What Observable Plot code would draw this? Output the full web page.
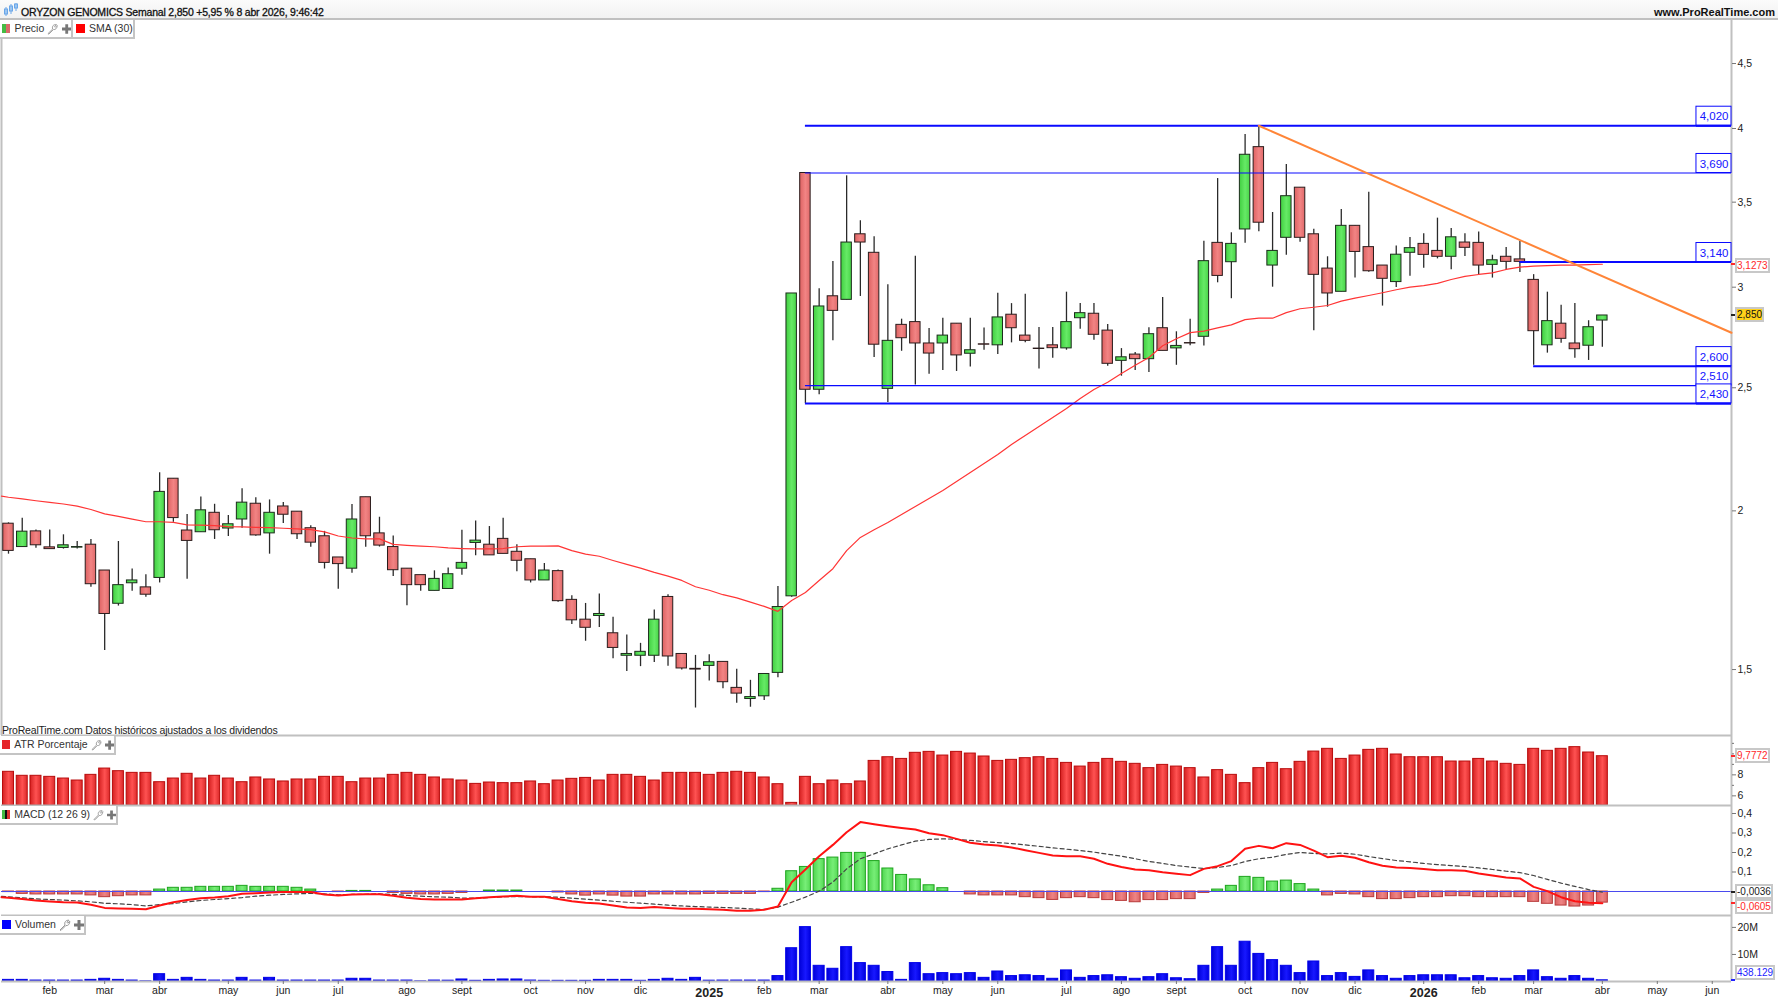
<!DOCTYPE html>
<html lang="es">
<head>
<meta charset="utf-8">
<title>ORYZON GENOMICS</title>
<script src="https://cdn.jsdelivr.net/npm/d3@7"></script>
<script src="https://cdn.jsdelivr.net/npm/@observablehq/plot@0.6"></script>
<style>
html,body{margin:0;padding:0;background:#fff;overflow:hidden}
body{width:1778px;height:1000px;position:relative;font-family:"Liberation Sans",Arial,sans-serif;font-size:10.5px;color:#222}
.pane{position:absolute;left:0}
.pane svg{display:block;overflow:visible}
.abs{position:absolute;white-space:nowrap}
.leg{position:absolute;left:0;height:17px;line-height:17px;background:#fff;border-right:2px solid #c4c4c4;border-bottom:2px solid #c4c4c4;box-sizing:content-box;white-space:nowrap;display:flex;align-items:center;font-size:10.5px;color:#333}
.sw{display:inline-block;width:9px;height:9px;margin:0 4px 0 2px}
.ic{margin-left:3px}
.val{position:absolute;left:1735px;height:11px;line-height:11px;padding:0;border:2px solid #c8c8c8;font-size:10px;background:#fff;white-space:nowrap;box-sizing:content-box}
.mk{position:absolute;left:1731px;width:4px;height:2px}
</style>
</head>
<body>
<script>
const openP = [1.954,1.873,1.927,1.872,1.870,1.871,1.881,1.795,1.690,1.754,
1.741,1.771,2.120,1.930,1.924,1.993,1.937,1.969,2.026,1.920,
2.016,1.997,1.938,1.910,1.838,1.801,2.050,1.920,1.873,1.801,
1.780,1.730,1.736,1.801,1.887,1.881,1.901,1.857,1.832,1.763,
1.793,1.702,1.642,1.653,1.602,1.538,1.538,1.538,1.711,1.543,
1.502,1.510,1.521,1.451,1.422,1.429,1.491,1.713,3.690,2.491,
2.951,2.932,3.302,3.193,2.495,2.802,2.816,2.709,2.709,2.808,
2.659,2.705,2.700,2.854,2.748,2.684,2.700,2.685,2.836,2.859,
2.773,2.625,2.655,2.633,2.785,2.685,2.711,2.742,3.251,3.139,
3.331,3.867,3.120,3.281,3.593,3.302,3.103,2.975,3.353,3.226,
3.120,3.028,3.193,3.245,3.204,3.170,3.253,3.251,3.124,3.170,
3.155,3.040,2.700,2.808,2.709,2.698,2.824];
const highP = [1.957,1.973,1.932,1.932,1.915,1.892,1.899,1.795,1.892,1.800,
1.781,2.143,2.120,1.987,2.051,2.024,1.983,2.082,2.048,2.040,
2.031,1.997,1.947,1.927,1.838,2.023,2.050,1.977,1.911,1.801,
1.780,1.794,1.803,1.931,1.964,1.944,1.973,1.881,1.832,1.818,
1.797,1.715,1.691,1.720,1.649,1.597,1.573,1.671,1.718,1.543,
1.539,1.541,1.521,1.501,1.471,1.488,1.744,2.966,3.690,2.991,
3.143,3.671,3.384,3.287,3.013,2.831,3.173,2.784,2.836,2.808,
2.836,2.786,2.967,2.912,2.962,2.788,2.788,2.973,2.913,2.913,
2.804,2.684,2.665,2.787,2.944,2.767,2.831,3.261,3.653,3.311,
3.957,4.020,3.435,3.747,3.593,3.333,3.170,3.453,3.353,3.564,
3.120,3.233,3.283,3.305,3.400,3.337,3.305,3.315,3.179,3.224,
3.259,3.069,2.973,2.904,2.913,2.823,2.850];
const lowP = [1.849,1.873,1.869,1.866,1.866,1.866,1.741,1.553,1.683,1.729,
1.710,1.755,1.959,1.767,1.924,1.899,1.909,1.938,1.910,1.849,
1.955,1.899,1.872,1.800,1.735,1.786,1.872,1.873,1.776,1.684,
1.729,1.730,1.736,1.780,1.844,1.845,1.850,1.791,1.755,1.763,
1.695,1.628,1.579,1.619,1.530,1.495,1.508,1.519,1.509,1.499,
1.399,1.469,1.449,1.411,1.401,1.418,1.478,1.710,2.430,2.468,
2.722,2.932,2.950,2.641,2.434,2.671,2.513,2.562,2.580,2.575,
2.596,2.676,2.655,2.712,2.712,2.587,2.637,2.676,2.780,2.725,
2.600,2.553,2.580,2.570,2.673,2.604,2.698,2.697,3.024,2.938,
3.249,3.317,3.000,3.179,3.254,2.772,2.893,2.975,3.050,3.082,
2.899,2.998,3.060,3.105,3.158,3.096,3.172,3.068,3.050,3.092,
3.081,2.604,2.662,2.710,2.637,2.627,2.690];
const closeP = [1.860,1.926,1.879,1.866,1.879,1.873,1.751,1.659,1.748,1.763,
1.718,2.070,1.974,1.894,2.002,1.931,1.952,2.030,1.913,1.993,
1.986,1.917,1.888,1.820,1.816,1.969,1.910,1.878,1.796,1.748,
1.748,1.768,1.783,1.820,1.895,1.845,1.850,1.827,1.763,1.795,
1.698,1.640,1.618,1.659,1.560,1.543,1.549,1.642,1.536,1.503,
1.500,1.520,1.466,1.436,1.427,1.488,1.680,2.966,2.491,2.897,
2.874,3.253,3.253,2.703,2.722,2.735,2.709,2.660,2.748,2.651,
2.676,2.703,2.840,2.785,2.722,2.682,2.686,2.816,2.862,2.752,
2.611,2.642,2.633,2.755,2.673,2.697,2.709,3.145,3.062,3.245,
3.814,3.372,3.204,3.538,3.281,3.068,2.966,3.353,3.198,3.088,
3.046,3.182,3.220,3.181,3.170,3.284,3.222,3.120,3.150,3.141,
3.141,2.770,2.821,2.732,2.681,2.790,2.850];
const sma30 = [2.050,2.044,2.037,2.031,2.025,2.017,2.005,1.989,1.980,1.970,
1.961,1.961,1.959,1.950,1.949,1.947,1.944,1.943,1.941,1.940,
1.938,1.936,1.933,1.925,1.911,1.904,1.901,1.901,1.882,1.879,
1.876,1.874,1.870,1.868,1.867,1.867,1.868,1.874,1.876,1.876,
1.877,1.861,1.849,1.842,1.828,1.815,1.803,1.789,1.777,1.763,
1.743,1.732,1.718,1.708,1.695,1.682,1.667,1.700,1.725,1.763,
1.801,1.861,1.906,1.933,1.958,1.987,2.016,2.045,2.075,2.109,
2.144,2.179,2.215,2.256,2.293,2.331,2.369,2.408,2.452,2.492,
2.525,2.566,2.604,2.641,2.698,2.732,2.763,2.770,2.787,2.802,
2.829,2.836,2.836,2.865,2.885,2.893,2.902,2.925,2.941,2.955,
2.970,2.986,3.000,3.009,3.021,3.042,3.059,3.070,3.079,3.098,
3.111,3.117,3.120,3.122,3.123,3.125,3.1273];
const smaBefore = 2.054;
const macdBefore = -.029;
const signalBefore = -.025;
const atrPct = [8.29,7.91,7.91,7.81,7.65,7.46,8.00,8.60,8.35,8.19,
8.19,7.30,7.65,8.10,7.65,7.91,7.65,7.30,7.75,7.56,
7.37,7.56,7.56,7.81,7.81,7.30,7.65,7.65,8.00,8.19,
8.00,7.75,7.56,7.46,7.14,7.27,7.21,7.21,7.37,7.11,
7.46,7.62,7.71,7.46,8.00,8.00,7.81,7.46,8.19,8.19,
8.19,8.00,8.19,8.29,8.19,7.75,7.11,5.33,7.81,7.11,
7.46,7.11,7.37,9.33,9.68,9.52,10.10,10.19,9.84,10.19,
10.03,9.75,9.33,9.43,9.59,9.68,9.52,9.14,8.79,9.14,
9.52,9.24,9.05,8.64,8.95,8.79,8.64,7.75,8.45,8.00,
7.21,8.64,9.14,8.54,9.24,10.22,10.48,9.52,9.84,10.38,
10.48,9.94,9.68,9.68,9.68,9.27,9.27,9.52,9.27,9.05,
8.95,10.48,10.29,10.48,10.64,10.13,9.7772];
const macdHist = [-.003,-.012,-.015,-.015,-.015,-.015,-.020,-.029,-.024,-.020,
-.020,.010,.019,.019,.024,.024,.024,.029,.024,.024,
.024,.019,.010,0,-.003,.003,.003,0,-.007,-.012,
-.015,-.015,-.012,-.007,0,.005,.005,.005,0,0,
-.005,-.015,-.021,-.015,-.021,-.026,-.026,-.015,-.015,-.015,
-.015,-.012,-.012,-.012,-.012,-.003,.014,.104,.126,.166,
.174,.198,.198,.156,.118,.085,.062,.032,.017,0,
-.015,-.020,-.020,-.020,-.029,-.034,-.043,-.034,-.029,-.034,
-.044,-.048,-.055,-.044,-.044,-.039,-.039,-.007,.010,.029,
.075,.070,.051,.056,.038,.010,-.020,-.012,-.015,-.029,
-.039,-.039,-.034,-.029,-.029,-.024,-.024,-.029,-.029,-.029,
-.029,-.053,-.063,-.072,-.077,-.072,-.057];
const macdLine = [-.032,-.038,-.046,-.051,-.055,-.056,-.068,-.084,-.087,-.089,
-.091,-.072,-.055,-.044,-.034,-.031,-.024,-.012,-.009,-.005,
-.003,-.002,-.003,-.015,-.020,-.015,-.014,-.014,-.022,-.032,
-.038,-.041,-.041,-.041,-.034,-.029,-.026,-.022,-.027,-.027,
-.038,-.050,-.058,-.062,-.072,-.082,-.085,-.080,-.085,-.089,
-.089,-.091,-.094,-.099,-.099,-.094,-.077,.048,.113,.181,
.239,.304,.356,.345,.335,.326,.318,.299,.289,.270,
.250,.241,.236,.226,.212,.198,.185,.181,.181,.168,
.142,.126,.113,.109,.099,.091,.084,.116,.130,.156,
.219,.234,.222,.248,.239,.210,.176,.183,.173,.150,
.132,.123,.121,.115,.109,.109,.106,.092,.082,.072,
.067,.024,.002,-.029,-.050,-.058,-.0605];
const macdSignal = [-.027,-.032,-.038,-.041,-.044,-.048,-.053,-.060,-.063,-.067,
-.074,-.067,-.062,-.053,-.046,-.041,-.036,-.031,-.024,-.019,
-.015,-.012,-.010,-.012,-.017,-.015,-.014,-.012,-.015,-.020,
-.024,-.027,-.029,-.034,-.034,-.031,-.027,-.026,-.027,-.027,
-.029,-.034,-.039,-.044,-.050,-.055,-.060,-.065,-.070,-.074,
-.077,-.080,-.082,-.085,-.089,-.092,-.080,-.055,-.029,.002,
.048,.116,.168,.193,.219,.239,.258,.267,.270,.268,
.262,.256,.251,.246,.239,.232,.224,.217,.210,.202,
.191,.181,.168,.154,.144,.133,.125,.118,.123,.133,
.154,.168,.176,.190,.200,.195,.193,.197,.191,.179,
.169,.159,.152,.144,.138,.133,.128,.121,.113,.104,
.097,.082,.062,.043,.026,.010,-.0036];
const volumeM = [.6,.6,.35,.35,.35,.35,.6,1.0,.6,.35,
.05,2.7,.6,1.35,.6,.35,.35,1.35,.35,1.35,
.35,.35,.35,.35,.35,1.0,1.0,.35,.35,.35,
.05,.35,.3,.75,.25,.6,.75,.75,.35,.25,
.25,.25,.25,.6,.6,.6,.25,.6,1.0,.6,
1.35,.3,.35,.35,.35,.35,2.0,12.3,20.1,5.8,
4.7,12.7,6.8,5.8,3.5,.6,6.8,2.7,3.1,2.7,
3.1,1.35,3.7,2.0,2.3,2.0,1.0,4.1,1.35,2.0,
2.3,1.6,1.0,1.6,2.7,1.2,.85,5.8,12.7,5.8,
14.7,10.2,7.9,5.8,3.1,7.4,2.0,3.1,1.7,4.1,
2.0,1.0,2.0,2.3,2.3,2.3,1.2,2.0,1.2,1.0,
2.0,4.1,1.6,1.0,2.0,1.0,.438];
const monthTicks = [3,7,11,16,20,24,29,33,38,42,46,55,59,64,68,72,77,81,85,90,94,98,107,111,116,120,124];
const monthLabels = ["feb","mar","abr","may","jun","jul","ago","sept","oct","nov","dic","feb","mar","abr","may","jun","jul","ago","sept","oct","nov","dic","feb","mar","abr","may","jun"];
const yearTicks = [51,103];
const yearLabels = ["2025","2026"];
const levels = [4.02,3.69,3.14,2.6,2.51,2.43];
const levelStart = [58,58,110,111,58,58];
const levelWeight = [2,1.2,2,2,1.2,2];
const levelText = ["4,020","3,690","3,140","2,600","2,510","2,430"];
const trendX = [91,125.4];
const trendY = [4.02,2.762];
const priceTicks = [1.5,2,2.5,3,3.5,4,4.5];
const atrTicks = [6,8];
const atrMinor = [7,9,10,11];
const macdTicks = [.1,.2,.3,.4];
const volTicks = [10,20];

const W = 1778, idx = d3.range(openP.length);
const xDomain = [-0.509,125.4];
const base = {width:W, marginLeft:1, marginRight:47, marginTop:0, marginBottom:0,
  x:{type:"linear",domain:xDomain,axis:null},
  style:{fontFamily:"'Liberation Sans',Arial,sans-serif",fontSize:"10.5px",color:"#222",background:"transparent"}};
const comma = d => String(d).replace(".",",");
const grad = (id,a,b,c) => `<linearGradient id="${id}" x1="0" x2="1" y1="0" y2="0"><stop offset="0" stop-color="${a}"/><stop offset=".55" stop-color="${b}"/><stop offset="1" stop-color="${c}"/></linearGradient>`;
const defs = () => {
  const el = document.createElementNS("http://www.w3.org/2000/svg","defs");
  el.innerHTML = grad("gGreen","#41cf41","#66ea66","#48d448")+grad("gRed","#dd6262","#f28484","#e06a6a")
   +grad("gAtr","#d42020","#ff5252","#dc2a2a")+grad("gBlue","#0000d8","#1818ff","#0000e0")
   +grad("hGreen","#4fd54f","#77ee77","#55d855")+grad("hRed","#da6060","#ee8484","#dc6666");
  return el;
};
const frameLines = yv => [
  Plot.ruleX([xDomain[1]],{stroke:"#c0c0c0",strokeWidth:2}),
  Plot.ruleY([yv],{stroke:"#c0c0c0",strokeWidth:2})
];
const isUp = i => closeP[i] >= openP[i];
const bodyLo = i => Math.min(openP[i],closeP[i]);
const bodyHi = i => Math.max(openP[i],closeP[i]);
const hw = .38, bw = .40;
const priceDomain = [1.331,4.865];
const withLead = (lead,arr) => [{x:xDomain[0],y:lead},...arr.map((y,x)=>({x,y}))];

function mount(plot,top){
  const d = document.createElement("div");
  d.className = "pane"; d.style.top = top+"px";
  d.appendChild(plot); document.body.appendChild(d);
  return plot;
}

const main = mount(Plot.plot({...base, height:715,
  y:{type:"log",domain:priceDomain,axis:null},
  marks:[
    defs,
    ...frameLines(priceDomain[0]),
    Plot.ruleX([-0.509],{stroke:"#c0c0c0",strokeWidth:2}),
    Plot.axisY({anchor:"right",ticks:priceTicks,tickFormat:comma,tickSize:4,tickPadding:2,label:null,stroke:"#777"}),
    Plot.ruleX(idx,{x:i=>i,y1:i=>lowP[i],y2:i=>highP[i],stroke:"#2a2a2a",strokeWidth:1.3}),
    Plot.rect(idx.filter(isUp),{x1:i=>i-hw,x2:i=>i+hw,y1:bodyLo,y2:bodyHi,fill:"url(#gGreen)",stroke:"#1c2c1c",strokeWidth:1}),
    Plot.rect(idx.filter(i=>!isUp(i)),{x1:i=>i-hw,x2:i=>i+hw,y1:bodyLo,y2:bodyHi,fill:"url(#gRed)",stroke:"#2a1c1c",strokeWidth:1}),
    Plot.line(withLead(smaBefore,sma30),{x:"x",y:"y",stroke:"#ff3535",strokeWidth:1.2}),
    ...levels.map((v,k)=>Plot.ruleY([v],{x1:levelStart[k],x2:xDomain[1],stroke:"#0a0aff",strokeWidth:levelWeight[k]})),
    Plot.line(trendX.map((x,k)=>({x,y:trendY[k]})),{x:"x",y:"y",stroke:"#ff8538",strokeWidth:2}),
    Plot.rect(levels,{x1:122.85,x2:xDomain[1],y1:d=>d,y2:d=>d*1.0351,fill:"#fff",stroke:"#0a0aff",strokeWidth:1}),
    Plot.ruleY([4.02,3.14,2.6,2.43],{x1:122.85,x2:xDomain[1],stroke:"#0a0aff",strokeWidth:2}),
    Plot.text(levels,{x:124.13,y:d=>d,text:(d,i)=>levelText[i],dy:-9,fill:"#1414ff",fontSize:11.5})
  ]}),20);

const atrDomain = [5.08,11.75];
const atrPlot = mount(Plot.plot({...base, height:70,
  y:{domain:atrDomain,axis:null},
  marks:[
    defs,
    Plot.rect(idx,{x1:i=>i-bw,x2:i=>i+bw,y1:atrDomain[0],y2:i=>atrPct[i],fill:"url(#gAtr)",stroke:"#b80c0c",strokeWidth:1}),
    ...frameLines(atrDomain[0]),
    Plot.axisY({anchor:"right",ticks:atrMinor,tickFormat:()=>"",tickSize:2,label:null,stroke:"#777"}),
    Plot.axisY({anchor:"right",ticks:atrTicks,tickFormat:comma,tickSize:4,tickPadding:2,label:null,stroke:"#777"})
  ]}),735);

const macdDomain = [-.123,.441];
const macdPlot = mount(Plot.plot({...base, height:110,
  y:{domain:macdDomain,axis:null},
  marks:[
    defs,
    Plot.rect(idx.filter(i=>macdHist[i]>0),{x1:i=>i-bw,x2:i=>i+bw,y1:0,y2:i=>macdHist[i],fill:"url(#hGreen)",stroke:"#1fa41f",strokeWidth:1}),
    Plot.rect(idx.filter(i=>macdHist[i]<0),{x1:i=>i-bw,x2:i=>i+bw,y1:0,y2:i=>macdHist[i],fill:"url(#hRed)",stroke:"#b83a3a",strokeWidth:1}),
    Plot.ruleY([0],{stroke:"#4a4aee",strokeWidth:1.2}),
    Plot.line(withLead(signalBefore,macdSignal),{x:"x",y:"y",stroke:"#444",strokeWidth:1.2,strokeDasharray:"4,3"}),
    Plot.line(withLead(macdBefore,macdLine),{x:"x",y:"y",stroke:"#ff1212",strokeWidth:2}),
    ...frameLines(macdDomain[0]),
    Plot.axisY({anchor:"right",ticks:macdTicks,tickFormat:comma,tickSize:4,tickPadding:2,label:null,stroke:"#777"})
  ]}),805);

const allXTicks = [...monthTicks,...yearTicks];
const volDomain = [0,24.4];
const volPlot = mount(Plot.plot({...base, height:85, marginBottom:19,
  y:{domain:volDomain,axis:null},
  marks:[
    defs,
    Plot.rect(idx,{x1:i=>i-bw,x2:i=>i+bw,y1:0,y2:i=>volumeM[i],fill:"url(#gBlue)",stroke:"#0000e8",strokeWidth:1}),
    ...frameLines(0),
    Plot.axisY({anchor:"right",ticks:volTicks,tickFormat:d=>d+"M",tickSize:4,tickPadding:2,label:null,stroke:"#777"}),
    Plot.axisX({anchor:"bottom",ticks:allXTicks,tickFormat:d=>monthLabels[monthTicks.indexOf(d)]??"",tickSize:3,tickPadding:2,label:null,stroke:"#777",fontSize:10.5}),
    Plot.text(yearTicks,{x:d=>d,text:(d,i)=>yearLabels[i],frameAnchor:"bottom",dy:15,fontWeight:"bold",fontSize:12.5,fill:"#222"})
  ]}),915);

// header, legends and value flags
const add = (html,css,cls="abs") => { const e=document.createElement("div"); e.className=cls; e.style.cssText=css; e.innerHTML=html; document.body.appendChild(e); return e; };
const wrench = `<svg class="ic" width="12" height="12" viewBox="0 0 12 12"><path d="M1 11 L6 6 C5 3 7 1 10 1.2 L8 3.2 L8.8 4.2 L10.8 2.2 C11 5 9 7 6.8 6.6 L2 11.4 Z" fill="#fff" stroke="#999" stroke-width="1"/></svg>`;
const plus = `<svg class="ic" width="10" height="10" viewBox="0 0 10 10"><path d="M3.5 0H6.5V3.5H10V6.5H6.5V10H3.5V6.5H0V3.5H3.5Z" fill="#777"/></svg>`;
add("",`left:0;top:0;width:1778px;height:20px;background:linear-gradient(#fbfbfb,#f2f2f2);border-bottom:2px solid #c0c0c0;box-sizing:border-box`);
add(`<svg width="14" height="13" viewBox="0 0 14 13"><g stroke="#6aa6e8" fill="#9cc6f2"><path d="M2 4V13M7 1V11M12 0V8" fill="none"/><rect x="0.5" y="6" width="3" height="5"/><rect x="5.5" y="3" width="3" height="5"/><rect x="10.5" y="1" width="3" height="4"/></g></svg>`,`left:4px;top:3px;height:14px`);
add("ORYZON GENOMICS Semanal 2,850 +5,95 % 8 abr 2026, 9:46:42",`left:21px;top:5px;font-size:10.5px;letter-spacing:-.2px;line-height:14px;color:#111;-webkit-text-stroke:.3px #111`);
add("www.ProRealTime.com",`right:3px;top:5px;font-size:11px;line-height:14px;font-weight:bold;color:#111`);
add(`<span class="sw" style="background:linear-gradient(90deg,#44bb44 50%,#d96a6a 50%)"></span>Precio${wrench}${plus}`,`top:20px;width:71px`,"leg");
add(`<span class="sw" style="background:#f00;margin-left:3px"></span>SMA (30)`,`left:73px;top:20px;width:60px`,"leg");
add("ProRealTime.com Datos históricos ajustados a los dividendos",`left:2px;top:723px;font-size:10.5px;letter-spacing:-.2px;line-height:14px;color:#222`);
add(`<span class="sw" style="background:#e5252a"></span>ATR Porcentaje${wrench}${plus}`,`top:736px;width:114px`,"leg");
add(`<span class="sw" style="background:linear-gradient(90deg,#44bb44 33%,#111 33%,#111 66%,#d33 66%)"></span>MACD (12 26 9)${wrench}${plus}`,`top:806px;width:116px`,"leg");
add(`<span class="sw" style="background:#00f"></span>Volumen${wrench}${plus}`,`top:916px;width:84px`,"leg");

const flag = (text,plot,value,top,color,bg,dodge=0) => {
  const py = plot.scale("y").apply(value)+top;
  add("",`top:${py-1}px;background:${color}`,"mk");
  add(text,`top:${py-7.5+dodge}px;color:${bg?"#111":color};background:${bg||"#fff"}`,"val");
};
flag("3,1273",main,sma30[116],20,"#ff2a2a",null,2);
flag("2,850",main,closeP[116],20,"#222","#ffd21a");
flag("9,7772",atrPlot,atrPct[116],735,"#ff2a2a");
flag("-0,0036",macdPlot,macdSignal[116],805,"#222");
flag("-0,0605",macdPlot,macdLine[116],805,"#ff2a2a",null,4);
flag("438.129",volPlot,volumeM[116],915,"#2222ff",null,-7);
</script>
</body>
</html>
